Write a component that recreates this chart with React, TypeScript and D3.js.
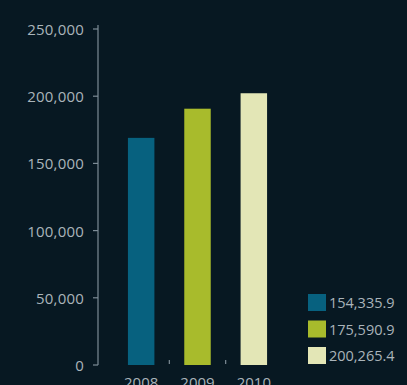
import React from "react";
import * as d3 from "d3";

const categories = ["2008", "2009", "2010"];
const barValues = [169000, 190700, 202200];
const legendLabels = ["154,335.9", "175,590.9", "200,265.4"];
const colors = ["#07617f", "#a8bb2c", "#e3e6b6"];
const yTicks = [0, 50000, 100000, 150000, 200000, 250000];

const W = 407;
const H = 385;
const FONT = "'Open Sans', sans-serif";
const TEXT = "#aab4ba";
const AXIS = "#7d8c96";

export default function App() {
  const y = d3.scaleLinear().domain([0, 250000]).range([365, 29]);
  const x = d3.scaleBand<string>().domain(categories).range([113, 282]).paddingInner(0.53).paddingOuter(0.265);
  const fmt = d3.format(",");
  const step = x.step();
  const x0 = 113;
  return (
    <svg width={W} height={H} style={{ position: "absolute", left: 0, top: 0, background: "#071822" }}>
      <rect x={0} y={0} width={W} height={H} fill="#071822" />
      {/* y axis */}
      <line x1={98} x2={98} y1={y(250000) - 4} y2={y(0)} stroke={AXIS} strokeWidth={1.2} />
      {yTicks.map((t) => (
        <g key={t}>
          <line x1={93} x2={98} y1={y(t)} y2={y(t)} stroke={AXIS} strokeWidth={1.2} />
          <text x={84} y={y(t) + 6} textAnchor="end" fill={TEXT} fontFamily={FONT} fontSize={15} letterSpacing={0.2}>
            {fmt(t)}
          </text>
        </g>
      ))}
      {/* bars */}
      {categories.map((c, i) => (
        <rect key={c} x={x(c)} y={y(barValues[i])} width={x.bandwidth()} height={y(0) - y(barValues[i])} fill={colors[i]} />
      ))}
      {/* x ticks between bands */}
      {categories.slice(1).map((c, i) => (
        <line key={c} x1={x0 + step * (i + 1)} x2={x0 + step * (i + 1)} y1={360} y2={364} stroke={AXIS} strokeWidth={1.2} />
      ))}
      {/* x labels */}
      {categories.map((c) => (
        <text key={c} x={(x(c) as number) + x.bandwidth() / 2} y={388} textAnchor="middle" fill={TEXT} fontFamily={FONT} fontSize={15}>
          {c}
        </text>
      ))}
      {/* legend */}
      {legendLabels.map((l, i) => (
        <g key={l}>
          <rect x={308} y={294 + i * 26.5} width={18} height={17} fill={colors[i]} />
          <text x={329} y={308 + i * 26.5} fill={TEXT} fontFamily={FONT} fontSize={14.5}>
            {l}
          </text>
        </g>
      ))}
    </svg>
  );
}
